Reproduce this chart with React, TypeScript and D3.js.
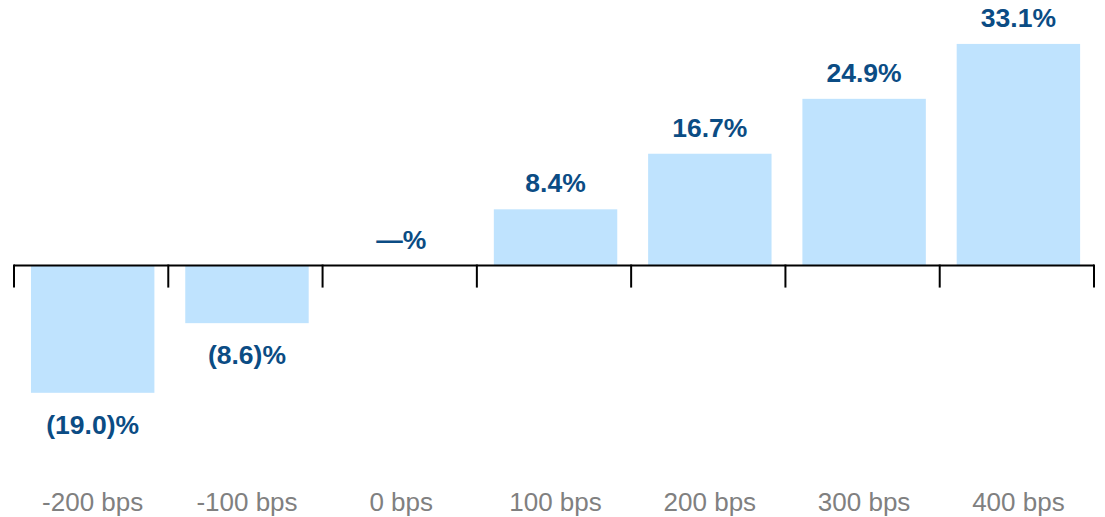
import React from "react";
import * as d3 from "d3";

const categories = ["-200 bps", "-100 bps", "0 bps", "100 bps", "200 bps", "300 bps", "400 bps"];
const values = [-19.0, -8.6, 0, 8.4, 16.7, 24.9, 33.1];

const W = 1105;
const H = 517;
const FONT = "Arial, 'Liberation Sans', sans-serif";

function fmt(v: number): string {
  if (v === 0) return "\u2014%";
  if (v < 0) return `(${Math.abs(v).toFixed(1)})%`;
  return `${v.toFixed(1)}%`;
}

export default function App() {
  const x = d3.scaleBand<string>().domain(categories).range([14, 1094]).padding(0);
  const step = x.step();
  const y = d3.scaleLinear().domain([-20, 35]).range([399.5, 31.2]);
  const y0 = y(0);
  const barW = step * 0.8;
  const barOff = step * 0.11;
  const tickXs = [...categories.map((c) => x(c) as number), 1094];

  return (
    <svg width={W} height={H} style={{ position: "absolute", left: 0, top: 0, background: "#fff" }}>
      {values.map((v, i) => {
        const bx = (x(categories[i]) as number) + barOff;
        const top = Math.min(y(v), y0);
        const h = Math.abs(y(v) - y0);
        return <rect key={"b" + i} x={bx} y={top} width={barW} height={h} fill="#BFE3FE" />;
      })}
      <line x1={14} x2={1094} y1={y0} y2={y0} stroke="#000" strokeWidth={2} />
      {tickXs.map((tx, i) => (
        <line key={"t" + i} x1={tx} x2={tx} y1={y0 - 1} y2={y0 + 22} stroke="#000" strokeWidth={2} />
      ))}
      {values.map((v, i) => {
        const cx = (x(categories[i]) as number) + barOff + barW / 2;
        const ly = v >= 0 ? y(v) - 17 : y(v) + 41;
        return (
          <text key={"l" + i} x={cx} y={ly} textAnchor="middle" fontFamily={FONT} fontWeight="bold" fontSize={26.5} fill="#0B4C84">
            {fmt(v)}
          </text>
        );
      })}
      {categories.map((c, i) => (
        <text key={"c" + i} x={(x(c) as number) + barOff + barW / 2} y={511} textAnchor="middle" fontFamily={FONT} fontSize={26} fill="#808080">
          {c}
        </text>
      ))}
    </svg>
  );
}
